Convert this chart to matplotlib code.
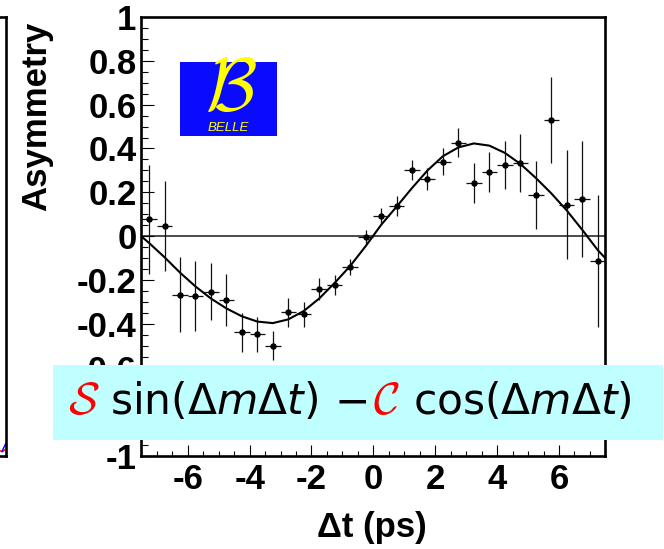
import matplotlib
matplotlib.use("Agg")
import matplotlib.pyplot as plt
from matplotlib.patches import Rectangle
from matplotlib.ticker import MultipleLocator, FixedLocator, FuncFormatter

plt.rcParams['font.family'] = ['Liberation Sans', 'DejaVu Sans']
plt.rcParams['axes.unicode_minus'] = False

# Binned asymmetry, 0.5 ps wide bins
dt_bins = [-7.25, -6.75, -6.25, -5.75, -5.25, -4.75, -4.25, -3.75,
           -3.25, -2.75, -2.25, -1.75, -1.25, -0.75, -0.25, 0.25,
           0.75, 1.25, 1.75, 2.25, 2.75, 3.25, 3.75, 4.25,
           4.75, 5.25, 5.75, 6.25, 6.75, 7.25]
asym = [0.077, 0.049, -0.266, -0.272, -0.253, -0.290, -0.437, -0.446,
        -0.497, -0.346, -0.355, -0.238, -0.222, -0.140, -0.003, 0.091,
        0.137, 0.302, 0.263, 0.340, 0.427, 0.242, 0.293, 0.324,
        0.334, 0.188, 0.530, 0.144, 0.169, -0.111]
asym_err = [0.250, 0.205, 0.170, 0.160, 0.130, 0.120, 0.090, 0.080,
            0.065, 0.065, 0.057, 0.050, 0.044, 0.038, 0.033, 0.040,
            0.045, 0.047, 0.050, 0.060, 0.068, 0.090, 0.093, 0.108,
            0.130, 0.156, 0.196, 0.247, 0.263, 0.300]
bin_half = 0.25

# Fit curve
fit_dt = [-7.5, -7.25, -6.75, -6.25, -5.75, -5.25, -4.75, -4.25,
          -3.75, -3.25, -2.75, -2.25, -1.75, -1.25, -0.75, -0.25,
          0.25, 0.75, 1.25, 1.75, 2.25, 2.75, 3.25, 3.75,
          4.25, 4.75, 5.25, 5.75, 6.25, 6.75, 7.25, 7.5]
fit_asym = [0.0, -0.030, -0.095, -0.165, -0.228, -0.283, -0.328, -0.364,
            -0.388, -0.395, -0.378, -0.340, -0.283, -0.212, -0.135, -0.045,
            0.052, 0.135, 0.220, 0.300, 0.365, 0.405, 0.423, 0.413,
            0.380, 0.330, 0.266, 0.196, 0.118, 0.030, -0.062, -0.100]

x_major = [-6, -4, -2, 0, 2, 4, 6]
y_major = [-1, -0.8, -0.6, -0.4, -0.2, 0, 0.2, 0.4, 0.6, 0.8, 1]

# what shows of the neighbouring panel cut off at the left edge
side_red_x = [0.982, 0.990, 0.996]
side_red_y = [0.012, 0.010, 0.014]
side_blue_x = [0.988, 0.994, 0.999]
side_blue_y = [0.010, 0.020, 0.028]

W, H = 664, 549
fig = plt.figure(figsize=(W / 100, H / 100), dpi=100)

# main frame
x0, x1, ytop, ybot = 141.3, 605.4, 16.7, 456.0
ax = fig.add_axes([x0 / W, (H - ybot) / H, (x1 - x0) / W, (ybot - ytop) / H])
ax.set_xlim(-7.5, 7.5)
ax.set_ylim(-1, 1)

ax.axhline(0, color='#1a1a1a', lw=1.1, zorder=1)
ax.plot(fit_dt, fit_asym, color='k', lw=1.5, zorder=2)
ax.errorbar(dt_bins, asym, xerr=bin_half, yerr=asym_err, fmt='o', ms=3.6,
            color='k', ecolor='#111111', elinewidth=0.9, capsize=0, zorder=3)

for sp in ax.spines.values():
    sp.set_linewidth(1.9)

ax.xaxis.set_major_locator(FixedLocator(x_major))
ax.xaxis.set_minor_locator(MultipleLocator(0.5))
ax.yaxis.set_major_locator(FixedLocator(y_major))
ax.yaxis.set_minor_locator(MultipleLocator(0.05))
ax.yaxis.set_major_formatter(FuncFormatter(lambda v, p: '%g' % round(v, 2)))
ax.xaxis.set_major_formatter(FuncFormatter(lambda v, p: '%g' % v))

ax.tick_params(which='both', direction='in', top=False, right=False,
               width=0.8, labelsize=25)
ax.tick_params(axis='x', which='major', length=8, pad=5)
ax.tick_params(axis='x', which='minor', length=3.3)
ax.tick_params(axis='y', which='major', length=9, pad=3.5)
ax.tick_params(axis='y', which='minor', length=5)
for lab in ax.get_xticklabels() + ax.get_yticklabels():
    lab.set_fontweight('bold')

ax.set_ylabel('Asymmetry', fontsize=25, fontweight='bold', va='center')
ax.yaxis.set_label_coords((37 - x0) / (x1 - x0), (ybot - 116) / (ybot - ytop))
ax.set_xlabel('\u0394t (ps)', fontsize=25, fontweight='bold', va='center')
ax.xaxis.set_label_coords((372 - x0) / (x1 - x0), (ybot - 528) / (ybot - ytop))

# partial neighbouring panel
sax = fig.add_axes([-0.5, (H - ybot) / H, 0.5 + 6 / W, (ybot - ytop) / H])
sax.set_xlim(0, 1)
sax.set_ylim(0, 1)
sax.set_xticks([])
sax.set_yticks([])
sax.patch.set_alpha(0)
for sp in sax.spines.values():
    sp.set_linewidth(1.9)
sax.plot(side_red_x, side_red_y, color='red', lw=1)
sax.plot(side_blue_x, side_blue_y, color='blue', lw=1)

# Belle logo
lax = fig.add_axes([180 / W, (H - 136) / H, 97 / W, 74 / H])
lax.set_facecolor('#0a0aff')
lax.set_xticks([])
lax.set_yticks([])
for sp in lax.spines.values():
    sp.set_visible(False)
lax.text(0.52, 0.62, r'$\mathcal{B}$', math_fontfamily='cm', color='#ffff00',
         fontsize=54, ha='center', va='center', transform=lax.transAxes)
lax.text(0.5, 0.11, 'BELLE', style='italic', color='#ffff00', fontsize=9.5,
         ha='center', va='center', transform=lax.transAxes)

# formula box
fig.patches.append(Rectangle((53 / W, (H - 440) / H), (663 - 53) / W, 75 / H,
                             transform=fig.transFigure, facecolor='#c0ffff',
                             edgecolor='none', zorder=5))
base = (H - 414) / H
pieces = [(83.5, r'$\mathcal{S}$', 'red', 'cm', 33),
          (214.0, r'$\sin(\Delta m\Delta t)$', 'black', 'dejavusans', 30.5),
          (350.5, r'$-$', 'black', 'dejavusans', 30.5),
          (386.0, r'$\mathcal{C}$', 'red', 'cm', 33),
          (522.5, r'$\cos(\Delta m\Delta t)$', 'black', 'dejavusans', 30.5)]
for px, s, c, mf, fs in pieces:
    fig.text(px / W, base, s, color=c, fontsize=fs, ha='center', va='baseline',
             math_fontfamily=mf, zorder=6)

fig.savefig('out.png', dpi=100)
